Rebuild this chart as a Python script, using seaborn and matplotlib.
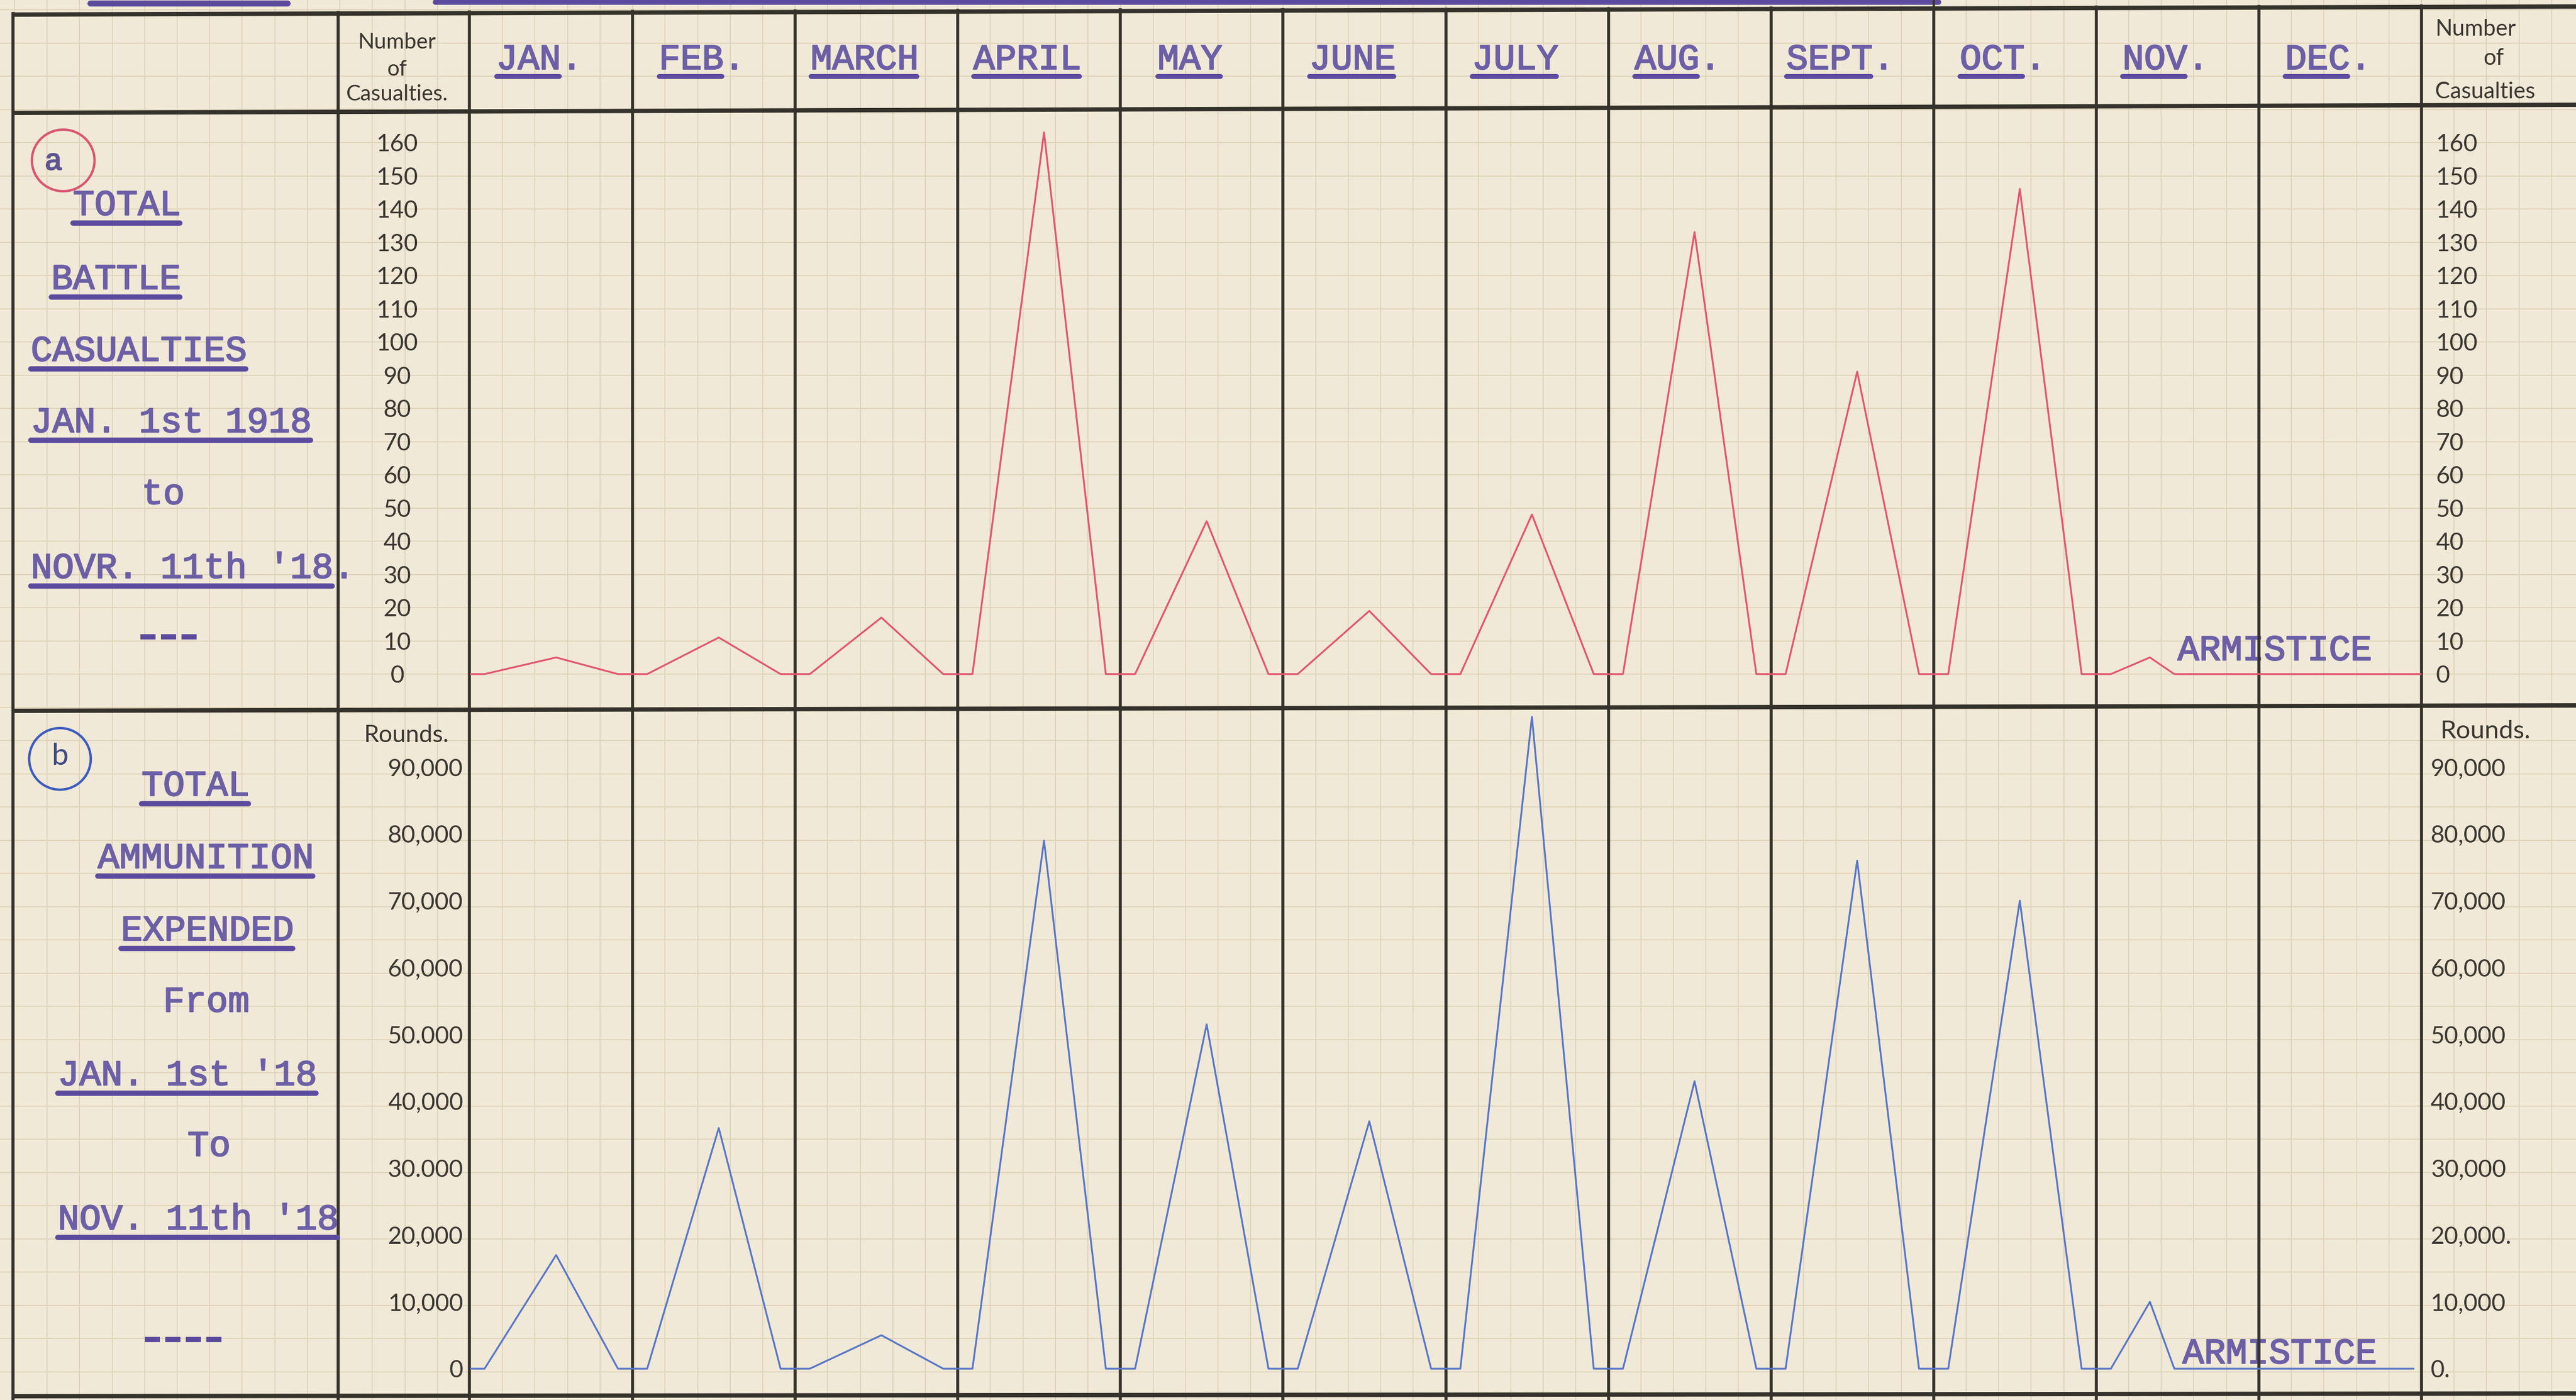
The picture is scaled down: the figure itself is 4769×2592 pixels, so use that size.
import numpy as np
import pandas as pd
import matplotlib
matplotlib.use("Agg")
import matplotlib.pyplot as plt
import matplotlib.patheffects as pe
import seaborn as sns
from matplotlib.patches import Ellipse

# ---------------- data ----------------
months = ["JAN.", "FEB.", "MARCH", "APRIL", "MAY", "JUNE", "JULY",
          "AUG.", "SEPT.", "OCT.", "NOV.", "DEC."]
# monthly peaks, Jan -> Nov (Armistice 11 Nov 1918)
casualties = [5, 11, 17, 163, 46, 19, 48, 133, 91, 146, 5]
ammunition = [17000, 36000, 5000, 79000, 51500, 37000, 97500, 43000, 76000, 70000, 10000]

cas_ticks = list(range(0, 161, 10))
cas_labels_left = [str(v) for v in cas_ticks]
cas_labels_right = [str(v) for v in cas_ticks]
amm_ticks = list(range(0, 90001, 10000))
amm_labels_left = ["0", "10,000", "20,000", "30.000", "40,000", "50.000",
                   "60,000", "70,000", "80,000", "90,000"]
amm_labels_right = ["0.", "10,000", "20,000.", "30,000", "40,000", "50,000",
                    "60,000", "70,000", "80,000", "90,000"]

left_a = ["TOTAL", "BATTLE", "CASUALTIES", "JAN. 1st 1918", "to", "NOVR. 11th '18."]
left_b = ["TOTAL", "AMMUNITION", "EXPENDED", "From", "JAN. 1st '18", "To", "NOV. 11th '18"]


def series(values, last_x):
    """zig-zag trace: flat at 0 near month borders, peak inside each month"""
    xs, ys = [0.0], [0.0]
    for i, v in enumerate(values):
        final = (i == len(values) - 1)
        peak = i + (0.33 if final else 0.53)
        fall = i + (0.48 if final else 0.91)
        xs += [i + 0.09, peak, fall]
        ys += [0.0, v, 0.0]
    xs.append(last_x)
    ys.append(0.0)
    return pd.DataFrame({"x": xs, "y": ys})


df_top = series(casualties, 12.0)
df_bot = series(ammunition, 11.95)

# ---------------- style ----------------
PAPER = "#F1E9D7"
GRID = "#DFD4BA"
FRAME = "#35312B"
TYPE = "#6C5FA6"
ULINE = "#5C4A9E"
INK = "#3A3732"
RED = "#E2566F"
BLUE = "#5876C8"
MONO = "Liberation Mono"
plt.rcParams["font.family"] = ["Lato", "DejaVu Sans"]

W, H = 4769, 2592
fig = plt.figure(figsize=(W / 100, H / 100), dpi=100)
fig.patch.set_facecolor(PAPER)

bg = fig.add_axes([0, 0, 1, 1])
bg.set_xlim(0, W)
bg.set_ylim(H, 0)
bg.axis("off")
bg.set_zorder(0)

X0, X1 = 870, 4483          # plotting area (Jan start -> Dec end)
MW = (X1 - X0) / 12.0

# graph paper
gx = X0 + MW / 5 * np.arange(-15, 66)
gy = 1248 + 61.5 * np.arange(-21, 23)
bg.vlines(gx, 0, H, color=GRID, lw=1.4, zorder=0)
bg.hlines(gy, 0, W, color=GRID, lw=1.4, zorder=0)

# title underlines (title itself is cut off above the page edge)
bg.plot([167, 532], [6, 6], color=ULINE, lw=8, solid_capstyle="round", zorder=2)
bg.plot([806, 3589], [4, 4], color=ULINE, lw=7, solid_capstyle="round", zorder=2)


def yline(x, a, b):
    return a + (b - a) * x / W


top_a, top_b = 27, 12
# horizontal frame lines
for a, b in [(top_a, top_b), (209, 194), (1316, 1306), (2585, 2580)]:
    bg.plot([24, W], [a, b], color=FRAME, lw=5.8, zorder=3, solid_capstyle="butt")
# vertical frame lines
vx = [24, 626, 869] + [X0 + k * MW for k in range(1, 13)]
for x in vx:
    bg.plot([x, x], [yline(x, top_a, top_b) - 2, H], color=FRAME, lw=4.0, zorder=3)
bg.plot([X0 + 9 * MW] * 2, [0, yline(X0 + 9 * MW, top_a, top_b)], color=FRAME, lw=3, zorder=3)

INKED = [pe.withStroke(linewidth=1.6, foreground=TYPE)]
TXT = dict(family=MONO, fontsize=48, color=TYPE, zorder=4, path_effects=INKED)

# month headers
for i, m in enumerate(months):
    cx = X0 + (i + 0.5) * MW - 22
    bg.text(cx, 128, m, ha="center", va="baseline", **TXT)
    left = cx - len(m) * 20
    n = len(m.rstrip("."))
    bg.plot([left, left + n * 40 - 4], [141, 141], color=ULINE, lw=6.5,
            solid_capstyle="round", zorder=4)


def label(x, base, s, underline=True):
    bg.text(x, base, s, ha="left", va="baseline", **TXT)
    if underline:
        n = len(s.rstrip("."))
        bg.plot([x, x + n * 40 - 2], [base + 15, base + 15], color=ULINE, lw=7,
                solid_capstyle="round", zorder=4)


def dashes(x, y, n):
    for k in range(n):
        bg.plot([x + k * 38, x + k * 38 + 28], [y, y], color=ULINE, lw=7,
                solid_capstyle="butt", zorder=4)


# left column, panel a
pos_a = [(135, 398), (95, 535), (57, 668), (57, 800), (262, 933), (57, 1070)]
for (x, b), s in zip(pos_a, left_a):
    label(x, b, s, underline=(s != "to"))
dashes(260, 1179, 3)
# left column, panel b
pos_b = [(262, 1473), (181, 1607), (224, 1741), (302, 1873), (107, 2009), (347, 2140), (107, 2276)]
for (x, b), s in zip(pos_b, left_b):
    label(x, b, s, underline=(s not in ("From", "To")))
dashes(268, 2480, 4)

# circled letters
bg.add_patch(Ellipse((117, 297), 116, 114, fill=False, ec="#DA5672", lw=3.2, zorder=4))
bg.text(99, 300, "a", family=MONO, fontsize=40, color="#5E5590",
        path_effects=[pe.withStroke(linewidth=1.6, foreground="#5E5590")],
        ha="center", va="center", zorder=4)
bg.add_patch(Ellipse((111, 1405), 114, 114, fill=False, ec="#3D5BC0", lw=3.2, zorder=4))
bg.text(111, 1400, "b", fontsize=40, color="#3D4A85", ha="center", va="center", zorder=4)

# axis headers
for y, s in [(79, "Number"), (128, "of"), (174, "Casualties.")]:
    bg.text(735, y, s, fontsize=29, color=INK, ha="center", va="center", zorder=4)
bg.text(4508, 54, "Number", fontsize=30, color=INK, ha="left", va="center", zorder=4)
bg.text(4616, 108, "of", fontsize=30, color=INK, ha="center", va="center", zorder=4)
bg.text(4508, 170, "Casualties", fontsize=30, color=INK, ha="left", va="center", zorder=4)
bg.text(753, 1362, "Rounds.", fontsize=32, color=INK, ha="center", va="center", zorder=4)
bg.text(4518, 1354, "Rounds.", fontsize=34, color=INK, ha="left", va="center", zorder=4)


# ---------------- data panels ----------------
def pix_rect(x0, y0, x1, y1):
    return [x0 / W, 1 - y1 / H, (x1 - x0) / W, (y1 - y0) / H]


ax_top = fig.add_axes(pix_rect(X0, 205, X1, 1312))
ax_bot = fig.add_axes(pix_rect(X0, 1312, X1, H))

top_scale = 6.153       # px per casualty
bot_scale = 0.012378    # px per round
ylim_top = (-(1312 - 1248) / top_scale, (1248 - 205) / top_scale)
ylim_bot = (-(H - 2534) / bot_scale, (2534 - 1312) / bot_scale)

for ax, df, col, ylim in [(ax_top, df_top, RED, ylim_top), (ax_bot, df_bot, BLUE, ylim_bot)]:
    ax.set_zorder(1)
    ax.set_facecolor("none")
    sns.lineplot(data=df, x="x", y="y", ax=ax, color=col, linewidth=2.4,
                 sort=False, estimator=None, legend=False)
    ax.set_xlim(0, 12)
    ax.set_ylim(*ylim)
    ax.set_xlabel("")
    ax.set_ylabel("")
    ax.set_xticks([])
    for sp in ax.spines.values():
        sp.set_visible(False)

# tick labels (hand-written scales on both sides)
ax_top.set_yticks(cas_ticks)
ax_top.set_yticklabels(cas_labels_left)
ax_top.tick_params(axis="y", length=0, pad=97, labelsize=32, labelcolor=INK)
for t in ax_top.get_yticklabels():
    t.set_horizontalalignment("center")
axr = ax_top.twinx()
axr.set_ylim(*ylim_top)
axr.set_yticks(cas_ticks)
axr.set_yticklabels(cas_labels_right)
axr.tick_params(axis="y", length=0, pad=19, labelsize=32, labelcolor=INK)

ax_bot.set_yticks(amm_ticks)
ax_bot.set_yticklabels(amm_labels_left)
ax_bot.tick_params(axis="y", length=0, pad=9, labelsize=32, labelcolor=INK)
axr2 = ax_bot.twinx()
axr2.set_ylim(*ylim_bot)
axr2.set_yticks(amm_ticks)
axr2.set_yticklabels(amm_labels_right)
axr2.tick_params(axis="y", length=0, pad=12, labelsize=32, labelcolor=INK)
for a in (axr, axr2):
    a.set_xticks([])
    for sp in a.spines.values():
        sp.set_visible(False)

# ARMISTICE annotations (placed in data coordinates, under the ruled lines)
bg.text(10.50, 4.2, "ARMISTICE", transform=ax_top.transData,
        ha="left", va="baseline", **{**TXT, "zorder": 2})
bg.text(10.53, 800, "ARMISTICE", transform=ax_bot.transData,
        ha="left", va="baseline", **{**TXT, "zorder": 2})

fig.savefig("out.png", dpi=100, facecolor=PAPER)
